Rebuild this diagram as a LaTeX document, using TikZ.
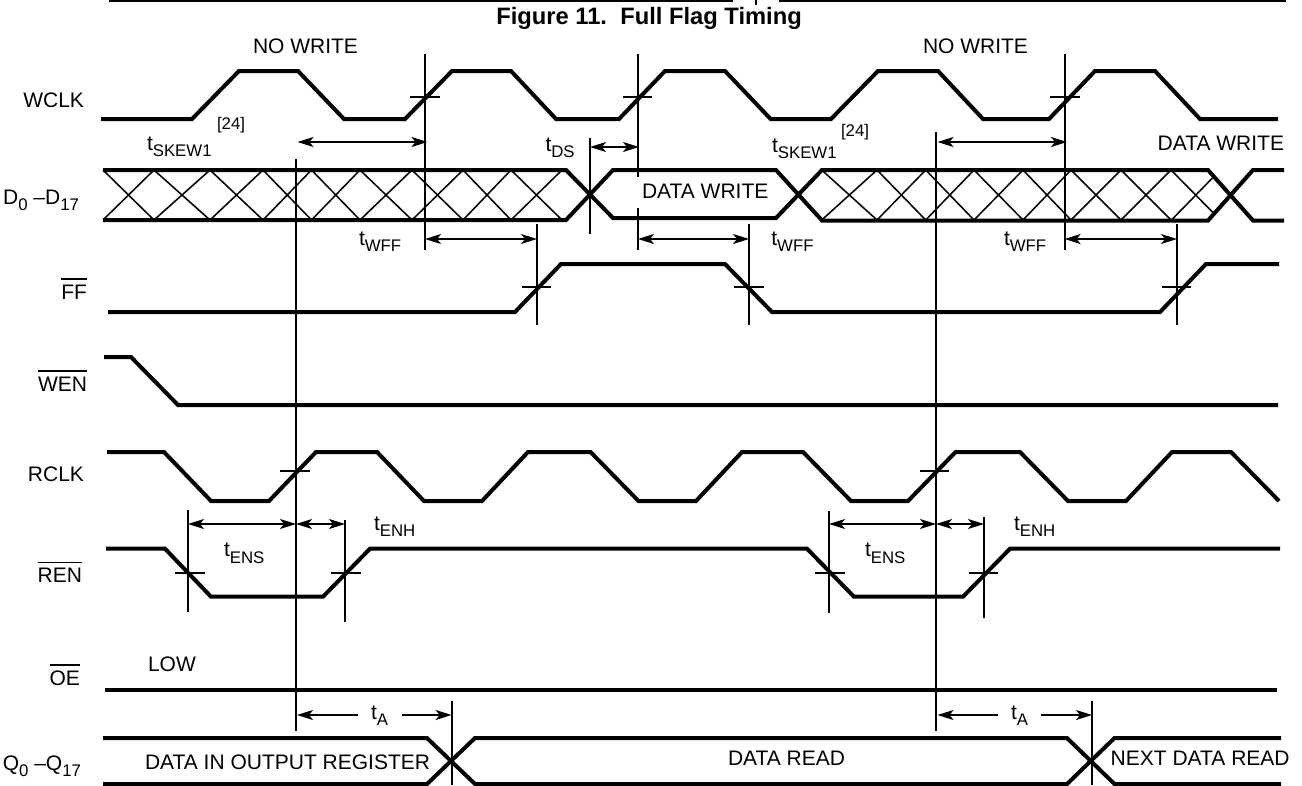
\documentclass[tikz,border=0pt]{standalone}
\usepackage{fontspec}
\setmainfont{Liberation Sans}
\usetikzlibrary{arrows.meta}
\newcommand\sbs[1]{\raisebox{-0.3em}{\fontsize{12.6pt}{14pt}\selectfont #1}}
\newcommand\ovl[1]{\vbox{\hrule height 1.2pt\kern 3.6pt\hbox{#1}}}
\tikzset{
  wave/.style={line width=3pt,line join=miter,line cap=butt},
  guide/.style={line width=1.35pt},
  hatch/.style={line width=1.15pt},
  dim/.style={line width=1.35pt,{Stealth[length=12pt,width=7.5pt,inset=3pt]}-{Stealth[length=12pt,width=7.5pt,inset=3pt]}},
  dimhead/.style={line width=1.35pt,-{Stealth[length=12pt,width=7.5pt,inset=3pt]}},
  lab/.style={inner sep=0pt,outer sep=0pt,anchor=base west,font=\fontsize{15.75pt}{18pt}\selectfont},
  labr/.style={lab,anchor=base east},
  note/.style={inner sep=0pt,outer sep=0pt,anchor=base west,font=\fontsize{12.6pt}{14pt}\selectfont},
}
\begin{document}
\begin{tikzpicture}[x=0.75pt,y=-0.75pt]
\fill[white] (0,0) rectangle (1302,785);
\useasboundingbox (0,0) rectangle (1302,785);
% top rule
\draw[line width=1.9pt] (109,1) -- (733,1);
\draw[line width=1.9pt] (779,1) -- (1286,1);
\draw[line width=0.8pt] (756,0) -- (756,5);
\node[inner sep=0pt,anchor=base west,font=\bfseries\fontsize{17.8pt}{20pt}\selectfont] (title) at (496,24) {Figure 11.\ \ Full Flag Timing};
% WCLK
\draw[wave] (101,119)--(192,119)--(239,71)--(298,71)--(344,119)--(405,119)--(452,71)--(511,71)--(556,119)--(619,119)--(665,71)--(725,71)--(770.6,119)--(831,119)--(878,71)--(938,71)--(983,119)--(1049,119)--(1095,71)--(1155,71)--(1200,119)--(1278,119);
% hatching
\foreach \a/\b in {103/154,154/210,210/263,263/311.5,311.5/360,360/412,412/463,463/511,511/562,821.7/877,877/925.7,925.7/974,974/1023,1023/1071,1071/1121,1121/1171}{
  \draw[hatch] (\a,170)--(\b,220);
  \draw[hatch] (\a,220)--(\b,170);
}
\draw[hatch] (1171,170)--(1213.4,213);
\draw[hatch] (1171,220.5)--(1213.4,177);
% data bus
\draw[wave] (103,170)--(566,170)--(613,218)--(776,218)--(822,170)--(1208,170)--(1253,220.5)--(1284,220.5);
\draw[wave] (103,220)--(566,220)--(613,170)--(776,170)--(822,220.5)--(1208,220.5)--(1253,170)--(1284,170);
% FF, WEN, RCLK, REN, OE
\draw[wave] (108,312)--(515,312)--(561,264)--(725,264)--(772,312)--(1160,312)--(1206,264)--(1279,264);
\draw[wave] (104,357)--(131,357)--(178,405)--(1278,405);
\draw[wave] (107,452)--(164,452)--(211,501)--(269,501)--(316,452)--(377,452)--(424,501)--(482,501)--(528,452)--(590.5,452)--(638.5,501)--(696,501)--(742,452)--(803,452)--(851,501)--(908,501)--(955.6,452)--(1020,452)--(1068,501)--(1126,501)--(1172,452)--(1231,452)--(1279,501);
\draw[wave] (106,548.7)--(165,548.7)--(211,596.7)--(323,596.7)--(370,548.7)--(807,548.7)--(854,596.7)--(963,596.7)--(1010,548.7)--(1280,548.7);
\draw[wave] (105,689.7)--(1277,689.7);
% Q bus
\draw[wave] (103,738)--(427,738)--(475,784)--(1067,784)--(1114.5,738)--(1281,738);
\draw[wave] (103,784)--(427,784)--(475,738)--(1067,738)--(1114.5,784)--(1281,784);
% guides
\draw[guide] (425,54)--(425,250);
\draw[guide] (638,54)--(638,177);
\draw[guide] (638,208)--(638,250);
\draw[guide] (1064.6,54)--(1064.6,250);
\draw[guide] (296,159)--(296,731);
\draw[guide] (936,132)--(936,731);
\draw[guide] (590,138)--(590,234);
\draw[guide] (537,224)--(537,325);
\draw[guide] (749,224)--(749,325);
\draw[guide] (1177,224)--(1177,325);
\draw[guide] (187.7,510)--(187.7,611.7);
\draw[guide] (345,520)--(345,621.7);
\draw[guide] (829,511)--(829,612.7);
\draw[guide] (984,517)--(984,618);
\draw[guide] (451.6,701)--(451.6,785);
\draw[guide] (1092,701)--(1092,785);
% ticks
\foreach \a/\b/\y in {410/440/97,623/652/97,1050/1079.5/97,522/551/287,734/763.5/287,1162/1191/287,280/310/470.7,920/949/470.7,175/205/572.7,331/361/572.7,815/845/572.7,968.5/997.6/572.7}{
  \draw[guide] (\a,\y)--(\b,\y);
}
% dimension arrows
\coordinate (s1a) at (297.5,142); \coordinate (s1b) at (427.5,142);
\coordinate (s2a) at (937.5,142); \coordinate (s2b) at (1067,142);
\coordinate (dsa) at (590,147); \coordinate (dsb) at (639,147);
\coordinate (w1a) at (425,239); \coordinate (w1b) at (537,239);
\coordinate (w2a) at (638,239); \coordinate (w2b) at (749,239);
\coordinate (w3a) at (1064.6,239); \coordinate (w3b) at (1177,239);
\coordinate (n1a) at (188,524); \coordinate (n1b) at (296,524);
\coordinate (h1b) at (345,524);
\coordinate (n2a) at (829,524); \coordinate (n2b) at (936,524);
\coordinate (h2b) at (984,524);
\draw[dim] (s1a)--(s1b);
\draw[dim] (s2a)--(s2b);
\draw[dim] (dsa)--(dsb);
\draw[dim] (w1a)--(w1b);
\draw[dim] (w2a)--(w2b);
\draw[dim] (w3a)--(w3b);
\draw[dim] (n1a)--(n1b);
\draw[dim] (n1b)--(h1b);
\draw[dim] (n2a)--(n2b);
\draw[dim] (n2b)--(h2b);
\coordinate (a1a) at (358,715); \coordinate (a1b) at (297,715);
\coordinate (a1c) at (402,715); \coordinate (a1d) at (451.6,715);
\coordinate (a2a) at (998,715); \coordinate (a2b) at (937.5,715);
\coordinate (a2c) at (1041,715); \coordinate (a2d) at (1092,715);
\draw[dimhead] (a1a)--(a1b);
\draw[dimhead] (a1c)--(a1d);
\draw[dimhead] (a2a)--(a2b);
\draw[dimhead] (a2c)--(a2d);
% labels
\node[lab] (nw1) at (253,53) {NO WRITE};
\node[lab] (nw2) at (923,53) {NO WRITE};
\node[labr] (wclk) at (84,107.5) {WCLK};
\node[labr] (dbus) at (79,204) {D\sbs{0} –D\sbs{17}};
\node[labr] (ff) at (87,299) {\ovl{FF}};
\node[labr] (wen) at (87,391) {\ovl{WEN}};
\node[labr] (rclk) at (84,481.5) {RCLK};
\node[labr] (ren) at (82,582.5) {\ovl{REN}};
\node[labr] (oe) at (80,685.5) {\ovl{OE}};
\node[labr] (qbus) at (81,770.5) {Q\sbs{0} –Q\sbs{17}};
\node[lab] (sk1) at (147,150) {t\sbs{SKEW1}};
\node[note] (r1) at (217,129) {[24]};
\node[lab] (sk2) at (772,152) {t\sbs{SKEW1}};
\node[note] (r2) at (841,136.5) {[24]};
\node[lab] (tds) at (545.5,151) {t\sbs{DS}};
\node[lab] (dw1) at (642,198) {DATA WRITE};
\node[labr] (dw2) at (1284,150) {DATA WRITE};
\node[lab] (wf1) at (359,245) {t\sbs{WFF}};
\node[lab] (wf2) at (771.4,245) {t\sbs{WFF}};
\node[lab] (wf3) at (1004,245) {t\sbs{WFF}};
\node[lab] (ens1) at (224,556.7) {t\sbs{ENS}};
\node[lab] (ens2) at (865,556.7) {t\sbs{ENS}};
\node[lab] (enh1) at (374,530) {t\sbs{ENH}};
\node[lab] (enh2) at (1014,530) {t\sbs{ENH}};
\node[lab] (low) at (148,671.5) {LOW};
\node[lab] (ta1) at (371,719) {t\sbs{A}};
\node[lab] (ta2) at (1011,719) {t\sbs{A}};
\node[lab] (dior) at (145,769) {DATA IN OUTPUT REGISTER};
\node[lab] (dr) at (728,765.5) {DATA READ};
\node[lab] (ndr) at (1110.7,765.5) {NEXT DATA READ};
\end{tikzpicture}
\end{document}
